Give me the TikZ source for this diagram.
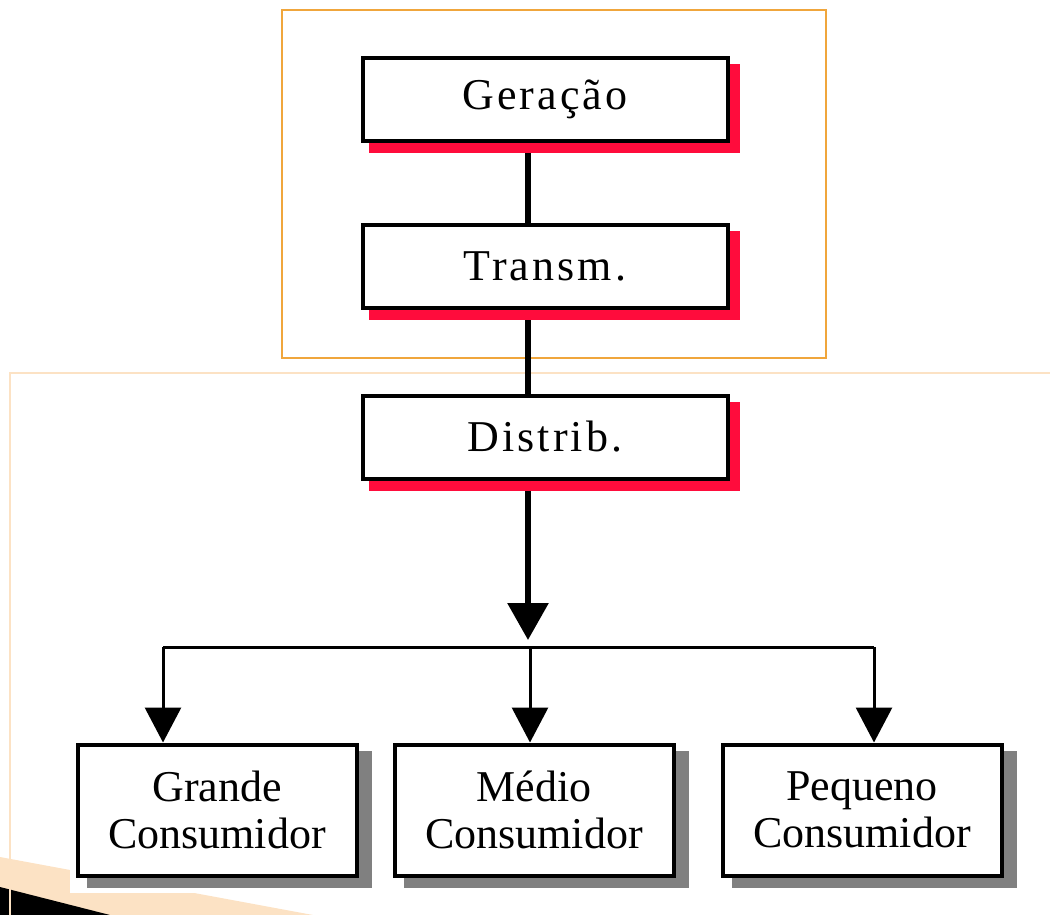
\documentclass[tikz,border=0pt]{standalone}
\usepackage{fontspec}
\setmainfont{Liberation Serif}
\usetikzlibrary{arrows.meta,shadows,backgrounds}
\definecolor{rouge}{RGB}{255,12,60}
\definecolor{gris}{RGB}{128,128,128}
\definecolor{orange}{RGB}{240,166,60}
\definecolor{peche}{RGB}{252,226,196}

\begin{document}
\begin{tikzpicture}[x=1pt, y=-1pt, >={Triangle[width=36pt,length=35pt]}]

        % Styles
        \tikzstyle{boite}=[rectangle, draw, line width=4pt, fill=white, align=center]
        \tikzstyle{etapa}=[boite, minimum width=365pt, minimum height=83pt, font=\fontsize{44}{47}\selectfont\addfontfeature{LetterSpace=7}, drop shadow={shadow xshift=9pt, shadow yshift=-9pt, fill=rouge, draw=rouge, line width=6pt, opacity=1}]
        \tikzstyle{consumidor}=[boite, minimum width=279pt, minimum height=131pt, font=\fontsize{44}{47}\selectfont, drop shadow={shadow xshift=12pt, shadow yshift=-9pt, fill=gris, draw=gris, line width=6pt, opacity=1}]

        \useasboundingbox (0,0) rectangle (1050,915);

        % Nœuds
        \node[etapa] (ger) at (545,99.5) {Geração};
        \node[etapa] (tra) at (545,266) {Transm.};
        \node[etapa] (dis) at (545,437) {Distrib.};
        \node[consumidor] (gra) at (217,810) {Grande\\Consumidor};
        \node[consumidor] (med) at (534,810) {Médio\\Consumidor};
        \node[consumidor] (peq) at (862,810) {Pequeno\\Consumidor};

        % Points de branchement
        \coordinate (tronco) at (528,647);
        \coordinate (ramoE) at (163,647);
        \coordinate (ramoM) at (530,647);
        \coordinate (ramoD) at (874,647);

        \begin{scope}[on background layer]
            % Coin en bas à gauche
            \fill[peche] (0,857) -- (313,915) -- (0,915) -- cycle;
            \fill[black] (0,887) -- (110,915) -- (0,915) -- cycle;
            \fill[white] (70,830) rectangle (1050,893);

            % Cadres
            \draw[peche, line width=2pt] (1050,373) -- (10,373) -- (10,915);
            \draw[orange, line width=2pt] (282,10) rectangle (826,358);

            % Liaisons
            \draw[line width=6pt] (tronco |- ger.south) -- (tronco |- tra.north);
            \draw[line width=6pt] (tronco |- tra.south) -- (tronco |- dis.north);
            \draw[line width=6pt, ->, >={Triangle[width=40pt,length=37pt]}, shorten >=7pt] (tronco |- dis.south) -- (tronco);
            \draw[line width=3pt] (ramoE) -- (ramoD);
            \draw[line width=3pt, ->] (ramoE) -- (ramoE |- gra.north);
            \draw[line width=3pt, ->] (ramoM) -- (ramoM |- med.north);
            \draw[line width=3pt, ->] (ramoD) -- (ramoD |- peq.north);
        \end{scope}

    \end{tikzpicture}
\end{document}
